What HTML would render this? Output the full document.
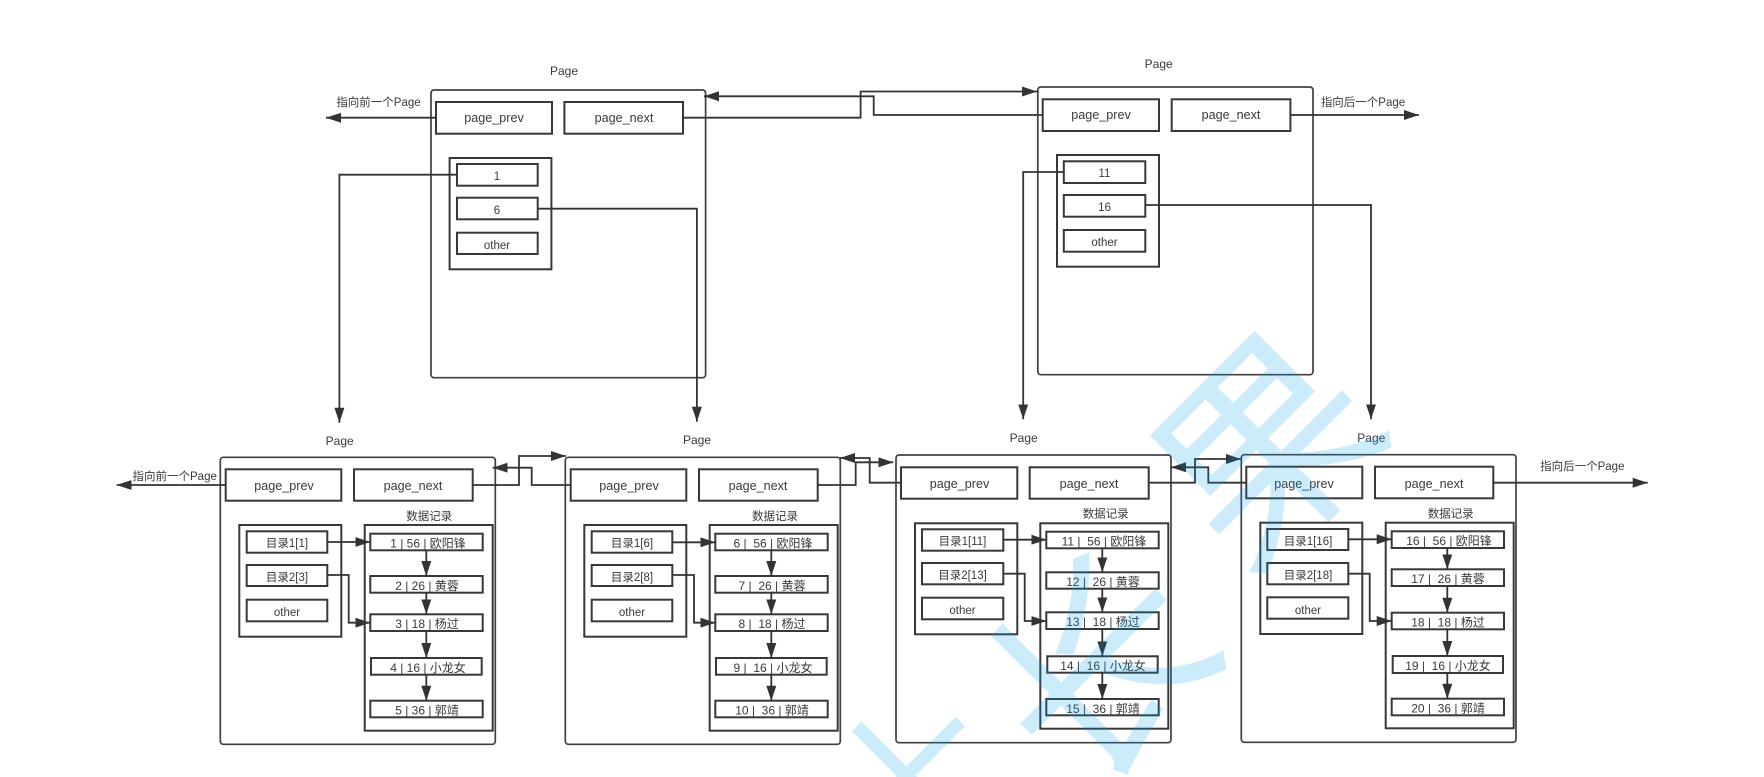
<!DOCTYPE html>
<html><head><meta charset="utf-8"><style>
html,body{margin:0;padding:0;background:#fff;width:1764px;height:777px;overflow:hidden}
svg{display:block;filter:blur(.3px)}
text{font-family:"Liberation Sans","Noto Sans CJK SC",sans-serif;fill:#3a3a3a;text-anchor:middle;white-space:pre}
.f{fill:none;stroke:#404040;stroke-width:1.7}
.b{fill:none;stroke:#383838;stroke-width:2}
.l{fill:none;stroke:#333;stroke-width:1.8;marker-end:url(#a)}
.s13{font-size:12.6px}.s12{font-size:12px}.s11{font-size:11.5px}
.wm{font-family:"WenQuanYi Zen Hei","Noto Sans CJK SC",sans-serif;fill:rgba(0,160,240,.2);font-size:215px;dominant-baseline:central}
</style></head><body>
<svg width="1764" height="777" viewBox="0 0 1764 777" xmlns="http://www.w3.org/2000/svg">
<defs><marker id="a" markerUnits="userSpaceOnUse" markerWidth="16" markerHeight="12" refX="15" refY="5.5" orient="auto"><path d="M0 .5L15 5.5L0 10.5Z" fill="#333"/></marker></defs>

<!-- top page 1 -->
<text class="s12" x="564" y="75">Page</text>
<rect class="f" x="431" y="90" width="274.6" height="287.7" rx="3"/>
<rect class="b" x="436" y="102" width="116" height="31.7"/><text class="s13" x="494" y="122">page_prev</text>
<rect class="b" x="564.4" y="102" width="118.6" height="31.7"/><text class="s13" x="624" y="122">page_next</text>
<rect class="b" x="449.6" y="158" width="101.8" height="111.3"/>
<rect class="b" x="457" y="164" width="80.7" height="21.7"/><text class="s11" x="497" y="180">1</text>
<rect class="b" x="457" y="197.7" width="80.7" height="21.6"/><text class="s11" x="497" y="214">6</text>
<rect class="b" x="457" y="232.7" width="80.7" height="21.3"/><text class="s11" x="497" y="249">other</text>
<text class="s11" x="378.5" y="106">指向前一个Page</text>
<path class="l" d="M436 117.7H326"/>
<path class="l" d="M457 174.7H339.4V422.7"/>
<path class="l" d="M537.7 208.7H696.9V421.7"/>
<path class="l" d="M683 117.7H860.6V91.5H1037"/>
<path class="l" d="M1042.7 115H873.7V96.3H704"/>

<!-- top page 2 -->
<text class="s12" x="1158.7" y="68">Page</text>
<rect class="f" x="1037.8" y="87" width="275.2" height="287.7" rx="3"/>
<rect class="b" x="1042.7" y="99.3" width="116.3" height="31.7"/><text class="s13" x="1101" y="119">page_prev</text>
<rect class="b" x="1171.7" y="99.3" width="118.7" height="31.7"/><text class="s13" x="1231" y="119">page_next</text>
<rect class="b" x="1057" y="155" width="102" height="111.7"/>
<rect class="b" x="1063.8" y="161.3" width="81.5" height="21.7"/><text class="s11" x="1104.5" y="177">11</text>
<rect class="b" x="1063.8" y="195" width="81.5" height="21.7"/><text class="s11" x="1104.5" y="211">16</text>
<rect class="b" x="1063.8" y="230" width="81.5" height="21.7"/><text class="s11" x="1104.5" y="246">other</text>
<text class="s11" x="1363" y="106">指向后一个Page</text>
<path class="l" d="M1290.4 115H1419"/>
<path class="l" d="M1063.8 172H1023.2V419.3"/>
<path class="l" d="M1145.3 205H1371V419.3"/>

<!-- P1 -->
<text class="s12" x="339.7" y="445">Page</text>
<rect class="f" x="220.3" y="457.3" width="275" height="287" rx="3"/>
<rect class="b" x="225.7" y="469.3" width="115.6" height="31.4"/><text class="s13" x="284" y="490">page_prev</text>
<rect class="b" x="354" y="469.3" width="118.7" height="31.4"/><text class="s13" x="413" y="490">page_next</text>
<rect class="b" x="239.3" y="525" width="102" height="111.7"/>
<rect class="b" x="246.7" y="531.3" width="80.6" height="21.4"/><text class="s11" x="287" y="547">目录1[1]</text>
<rect class="b" x="246.7" y="565" width="80.6" height="21"/><text class="s11" x="287" y="581">目录2[3]</text>
<rect class="b" x="246.7" y="599.7" width="80.6" height="21.6"/><text class="s11" x="287" y="616">other</text>
<text class="s11" x="429.3" y="520">数据记录</text>
<rect class="b" x="364.7" y="525" width="128" height="205.7"/>
<rect class="b" x="370.3" y="533.7" width="112.4" height="16.6"/><text class="s12" x="428" y="547.5">1 | 56 | 欧阳锋</text>
<rect class="b" x="370.3" y="576" width="112.4" height="16.7"/><text class="s12" x="427" y="590">2 | 26 | 黄蓉</text>
<rect class="b" x="370.3" y="614.3" width="112.4" height="16.7"/><text class="s12" x="427" y="628">3 | 18 | 杨过</text>
<rect class="b" x="371" y="658" width="110.7" height="16.7"/><text class="s12" x="428" y="672">4 | 16 | 小龙女</text>
<rect class="b" x="370.3" y="700.7" width="112.4" height="16.6"/><text class="s12" x="427" y="714.5">5 | 36 | 郭靖</text>
<path class="l" d="M426.3 550.3V576"/><path class="l" d="M426.3 592.7V614.3"/><path class="l" d="M426.3 631V658"/><path class="l" d="M426.3 674.7V700.7"/>
<path class="l" d="M327.3 542H370.3"/><path class="l" d="M327.3 575H348.7V622.7H370.3"/>
<text class="s11" x="174.7" y="480">指向前一个Page</text>
<path class="l" d="M225.7 485H116.7"/>
<path class="l" d="M472.7 485H519V456H566"/>
<path class="l" d="M570.7 485H531.7V467.7H492.7"/>

<!-- P2 -->
<text class="s12" x="697" y="444">Page</text>
<rect class="f" x="565.3" y="457.3" width="275" height="287" rx="3"/>
<rect class="b" x="570.7" y="469.3" width="115.6" height="31.4"/><text class="s13" x="629" y="490">page_prev</text>
<rect class="b" x="699" y="469.3" width="118.7" height="31.4"/><text class="s13" x="758" y="490">page_next</text>
<rect class="b" x="584.3" y="525" width="102" height="111.7"/>
<rect class="b" x="591.7" y="531.3" width="80.6" height="21.4"/><text class="s11" x="632" y="547">目录1[6]</text>
<rect class="b" x="591.7" y="565" width="80.6" height="21"/><text class="s11" x="632" y="581">目录2[8]</text>
<rect class="b" x="591.7" y="599.7" width="80.6" height="21.6"/><text class="s11" x="632" y="616">other</text>
<text class="s11" x="775" y="520">数据记录</text>
<rect class="b" x="709.7" y="525" width="128" height="205.7"/>
<rect class="b" x="715.3" y="533.7" width="112.4" height="16.6"/><text class="s12" x="773" y="547.5">6 |  56 | 欧阳锋</text>
<rect class="b" x="715.3" y="576" width="112.4" height="16.7"/><text class="s12" x="772" y="590">7 |  26 | 黄蓉</text>
<rect class="b" x="715.3" y="614.3" width="112.4" height="16.7"/><text class="s12" x="772" y="628">8 |  18 | 杨过</text>
<rect class="b" x="716" y="658" width="110.7" height="16.7"/><text class="s12" x="773" y="672">9 |  16 | 小龙女</text>
<rect class="b" x="715.3" y="700.7" width="112.4" height="16.6"/><text class="s12" x="772" y="714.5">10 |  36 | 郭靖</text>
<path class="l" d="M771.3 550.3V576"/><path class="l" d="M771.3 592.7V614.3"/><path class="l" d="M771.3 631V658"/><path class="l" d="M771.3 674.7V700.7"/>
<path class="l" d="M672.3 542.3H715.3"/><path class="l" d="M672.3 575H694V622.7H715.3"/>
<path class="l" d="M817.7 485H855.7V462.3H893.3"/>
<path class="l" d="M901 482.7H869.7V458H840"/>

<!-- P3 -->
<text class="s12" x="1023.7" y="442">Page</text>
<rect class="f" x="896" y="455" width="275" height="287.7" rx="3"/>
<rect class="b" x="901" y="467.3" width="116.3" height="31.4"/><text class="s13" x="959.5" y="488">page_prev</text>
<rect class="b" x="1029.7" y="467.3" width="119" height="31.4"/><text class="s13" x="1089" y="488">page_next</text>
<rect class="b" x="915" y="523.3" width="102.3" height="111"/>
<rect class="b" x="922" y="529.3" width="81.3" height="21.4"/><text class="s11" x="962.5" y="545">目录1[11]</text>
<rect class="b" x="922" y="563" width="81.3" height="21.3"/><text class="s11" x="962.5" y="579">目录2[13]</text>
<rect class="b" x="922" y="597.7" width="81.3" height="21.6"/><text class="s11" x="962.5" y="614">other</text>
<text class="s11" x="1105.7" y="517.5">数据记录</text>
<rect class="b" x="1040.3" y="523.3" width="128" height="205.4"/>
<rect class="b" x="1046.3" y="531.7" width="112.4" height="16.6"/><text class="s12" x="1104" y="545.5">11 |  56 | 欧阳锋</text>
<rect class="b" x="1046.3" y="572.3" width="112.4" height="16.4"/><text class="s12" x="1103" y="586">12 |  26 | 黄蓉</text>
<rect class="b" x="1046.3" y="612.3" width="112.4" height="16.7"/><text class="s12" x="1103" y="626">13 |  18 | 杨过</text>
<rect class="b" x="1047.3" y="656.3" width="110.4" height="16.4"/><text class="s12" x="1103" y="670">14 |  16 | 小龙女</text>
<rect class="b" x="1046.3" y="699" width="112.4" height="16.3"/><text class="s12" x="1103" y="713">15 |  36 | 郭靖</text>
<path class="l" d="M1102.3 548.3V572.3"/><path class="l" d="M1102.3 588.7V612.3"/><path class="l" d="M1102.3 629V656.3"/><path class="l" d="M1102.3 672.7V699"/>
<path class="l" d="M1003.3 539.7H1046.3"/><path class="l" d="M1003.3 573.7H1024.7V621H1046.3"/>
<path class="l" d="M1148.7 482.7H1195V459H1241"/>
<path class="l" d="M1246.3 482.7H1208.3V467.3H1171"/>

<!-- P4 -->
<text class="s12" x="1371.3" y="442">Page</text>
<rect class="f" x="1241.3" y="454.7" width="274.7" height="287.6" rx="3"/>
<rect class="b" x="1246.3" y="466.7" width="116" height="31.6"/><text class="s13" x="1304" y="488">page_prev</text>
<rect class="b" x="1375" y="466.7" width="118.3" height="31.6"/><text class="s13" x="1434" y="488">page_next</text>
<rect class="b" x="1260.3" y="522.7" width="102" height="111.3"/>
<rect class="b" x="1267.3" y="529" width="81" height="21"/><text class="s11" x="1308" y="545">目录1[16]</text>
<rect class="b" x="1267.3" y="563" width="81" height="21.3"/><text class="s11" x="1308" y="579">目录2[18]</text>
<rect class="b" x="1267.3" y="597.3" width="81" height="21.4"/><text class="s11" x="1308" y="614">other</text>
<text class="s11" x="1450.7" y="517.5">数据记录</text>
<rect class="b" x="1385.7" y="522.7" width="128" height="205.6"/>
<rect class="b" x="1391.7" y="531.3" width="112.3" height="16.7"/><text class="s12" x="1449" y="545">16 |  56 | 欧阳锋</text>
<rect class="b" x="1391.7" y="569.3" width="112.3" height="16.7"/><text class="s12" x="1448" y="583">17 |  26 | 黄蓉</text>
<rect class="b" x="1391.7" y="612.7" width="112.3" height="16.6"/><text class="s12" x="1448" y="626.5">18 |  18 | 杨过</text>
<rect class="b" x="1392.7" y="656" width="110.3" height="17"/><text class="s12" x="1448" y="670">19 |  16 | 小龙女</text>
<rect class="b" x="1391.7" y="698.7" width="112.3" height="16.6"/><text class="s12" x="1448" y="712.5">20 |  36 | 郭靖</text>
<path class="l" d="M1447.3 548V569.3"/><path class="l" d="M1447.3 586V612.7"/><path class="l" d="M1447.3 629.3V656"/><path class="l" d="M1447.3 673V698.7"/>
<path class="l" d="M1348.3 539.3H1391.7"/><path class="l" d="M1348.3 573.7H1369.7V621H1391.7"/>
<text class="s11" x="1582.3" y="470">指向后一个Page</text>
<path class="l" d="M1493.3 482.7H1647.7"/>

<!-- watermark -->
<text class="wm" transform="translate(1256 438) rotate(-45)" x="0" y="0">果</text>
<text class="wm" transform="translate(1090 658) rotate(-45)" x="0" y="0">长</text>
<text class="wm" style="font-size:170px" transform="translate(905 775) rotate(-45)" x="0" y="0">十</text>
</svg>
</body></html>
